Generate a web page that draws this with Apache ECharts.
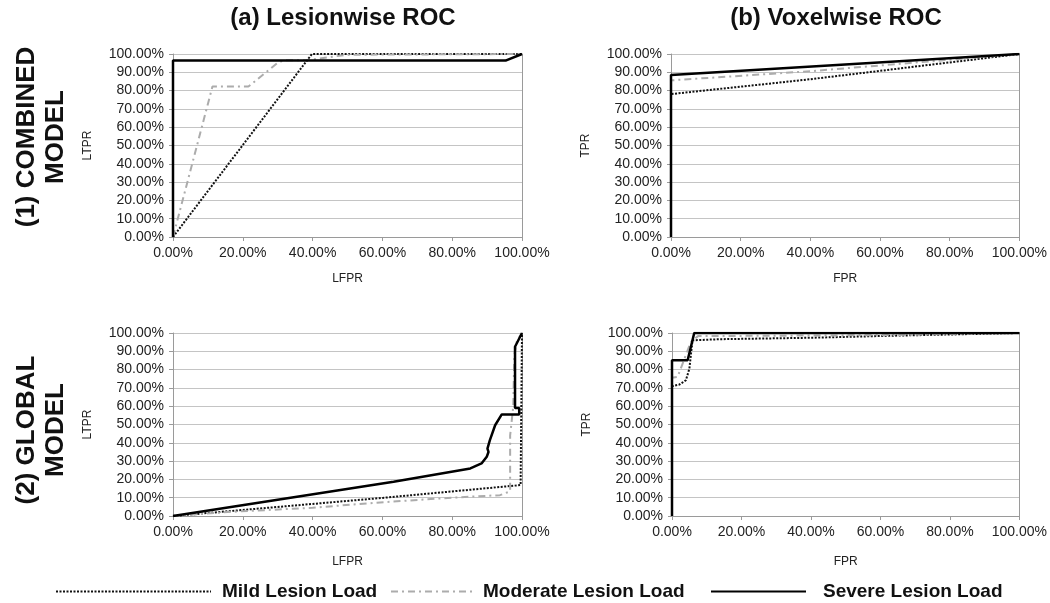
<!DOCTYPE html>
<html>
<head>
<meta charset="utf-8">
<script src="https://cdn.jsdelivr.net/npm/echarts@6/dist/echarts.min.js"></script>
<style>
html,body{margin:0;padding:0;background:#fff;}
#chart{width:1050px;height:603px;}
</style>
</head>
<body>
<div id="chart"></div>
<script>
// ---------- data (percent) ----------
const seriesNames = ['Mild Lesion Load', 'Moderate Lesion Load', 'Severe Lesion Load'];
const columnTitles = ['(a) Lesionwise ROC', '(b) Voxelwise ROC'];
const rowTitles = ['(1) COMBINED\nMODEL', '(2) GLOBAL\nMODEL'];
const xAxisNames = ['LFPR', 'FPR'];
const yAxisNames = ['LTPR', 'TPR'];
const xTickStep = 20;
const yTickStep = 10;

// (1) Combined model, lesionwise
const combinedLesionMild = [[0,0],[39.8,100],[100,100]];
const combinedLesionModerate = [[0,0],[11.3,82.2],[21.6,82.2],[29.8,94.9],[31.7,96.6],[38.4,96.6],[49.8,99.6],[100,100]];
const combinedLesionSevere = [[0,0],[0,96.4],[95.3,96.4],[100,100]];
// (1) Combined model, voxelwise
const combinedVoxelMild = [[0,0],[0,78.1],[40,86.2],[100,100]];
const combinedVoxelModerate = [[0,0],[0,85.6],[40,90.6],[100,100]];
const combinedVoxelSevere = [[0,0],[0,88.5],[100,100]];
// (2) Global model, lesionwise
const globalLesionMild = [[0,0],[40,6.6],[60,9.9],[99.6,16.9],[100,16.9],[100,100]];
const globalLesionModerate = [[0,0],[16.9,2.3],[40,4.5],[58.4,7.3],[80,10],[93.7,11.4],[96.6,13.5],[96.6,44],[97.5,60],[97.8,88],[98.6,96],[100,100]];
const globalLesionSevere = [[0,0],[63.2,18.7],[85.2,26],[88.4,28.7],[89.9,32.4],[90.4,35],[90.1,36.8],[90.8,41.5],[92.3,49.6],[94.2,55.5],[99.2,55.5],[99.2,59],[98,59],[98,92.5],[100,100]];
// (2) Global model, voxelwise
const globalVoxelMild = [[0,0],[0,70.9],[2.1,71.8],[4,74.2],[5,80.5],[5.9,96],[13.6,96.6],[40,97.4],[63,98.5],[100,100]];
const globalVoxelModerate = [[0,0],[0,75.5],[1.6,76],[5.4,95],[7.5,98.3],[60,98.8],[100,100]];
const globalVoxelSevere = [[0,0],[0,85.1],[4.5,85.1],[6.4,100],[100,100]];

const panelData = [
  [combinedLesionMild, combinedLesionModerate, combinedLesionSevere],
  [combinedVoxelMild, combinedVoxelModerate, combinedVoxelSevere],
  [globalLesionMild, globalLesionModerate, globalLesionSevere],
  [globalVoxelMild, globalVoxelModerate, globalVoxelSevere]
];

// ---------- layout / style ----------
const grids = [
  {left:173, top:54, width:349, height:183},
  {left:671, top:54, width:350, height:183},
  {left:173, top:333, width:349, height:183},
  {left:672, top:333, width:349, height:183}
];
const lineStyles = [
  {color:'#111', width:2, type:[2,1.5]},
  {color:'#acacac', width:2, type:[7,4,2,4]},
  {color:'#000', width:2.5, type:'solid'}
];
const legendLayout = [
  {left:50, itemWidth:155, textPad:6},
  {left:385, itemWidth:85, textPad:2},
  {left:705, itemWidth:95, textPad:12}
];
const font = 'Liberation Sans, Arial, sans-serif';
const axisGray = '#9a9a9a';
const fmt = v => v.toFixed(2) + '%';

const xAxes = [], yAxes = [], series = [];
grids.forEach((g, i) => {
  const col = i % 2;
  xAxes.push({
    type:'value', gridIndex:i, min:0, max:100, interval:xTickStep,
    name:xAxisNames[col], nameLocation:'middle', nameGap:i < 2 ? 36 : 40,
    nameTextStyle:{fontFamily:font, fontSize:12, color:'#222'},
    axisLine:{show:true, lineStyle:{color:axisGray, width:1}},
    axisTick:{show:true, length:4, lineStyle:{color:axisGray}},
    axisLabel:{formatter:fmt, fontFamily:font, fontSize:14, color:'#222', margin:9},
    splitLine:{show:false}
  });
  yAxes.push({
    type:'value', gridIndex:i, min:0, max:100, interval:yTickStep,
    name:yAxisNames[col], nameLocation:'middle', nameGap:79, nameRotate:90,
    nameTextStyle:{fontFamily:font, fontSize:12, color:'#222'},
    axisLine:{show:true, lineStyle:{color:axisGray, width:1}},
    axisTick:{show:true, length:4, lineStyle:{color:axisGray}},
    axisLabel:{formatter:fmt, fontFamily:font, fontSize:14, color:'#222', margin:9},
    splitLine:{show:true, lineStyle:{color:'#c4c4c4', width:1}}
  });
  // right border axis
  yAxes.push({
    type:'value', gridIndex:i, min:0, max:100, position:'right',
    axisLine:{show:true, onZero:false, lineStyle:{color:axisGray, width:1}},
    axisTick:{show:false}, axisLabel:{show:false}, splitLine:{show:false}
  });
  panelData[i].forEach((d, k) => {
    series.push({
      name:seriesNames[k], type:'line', xAxisIndex:i, yAxisIndex:i*2,
      data:d, symbol:'none', showSymbol:false, lineStyle:lineStyles[k],
      itemStyle:{color:lineStyles[k].color}, z:2+k, animation:false, silent:true
    });
  });
});

const legends = seriesNames.map((n, k) => ({
  data:[n], left:legendLayout[k].left, top:577, itemWidth:legendLayout[k].itemWidth, itemHeight:10,
  itemStyle:{opacity:0}, selectedMode:false,
  textStyle:{fontFamily:font, fontSize:19, fontWeight:'bold', color:'#111', padding:[0,0,0,legendLayout[k].textPad]}
}));

const chart = echarts.init(document.getElementById('chart'), null, {renderer:'canvas'});
chart.setOption({
  backgroundColor:'#fff',
  animation:false,
  grid:grids,
  xAxis:xAxes,
  yAxis:yAxes,
  series:series,
  legend:legends,
  graphic:[
    {type:'text', x:343, y:18, style:{text:columnTitles[0], fontFamily:font, fontSize:24, fontWeight:'bold', fill:'#111', align:'center', verticalAlign:'middle'}},
    {type:'text', x:836, y:18, style:{text:columnTitles[1], fontFamily:font, fontSize:24, fontWeight:'bold', fill:'#111', align:'center', verticalAlign:'middle'}},
    {type:'text', x:41, y:137, rotation:Math.PI/2, style:{text:rowTitles[0], fontFamily:font, fontSize:26, fontWeight:'bold', fill:'#111', align:'center', verticalAlign:'middle', lineHeight:29}},
    {type:'text', x:41, y:430, rotation:Math.PI/2, style:{text:rowTitles[1], fontFamily:font, fontSize:26, fontWeight:'bold', fill:'#111', align:'center', verticalAlign:'middle', lineHeight:29}}
  ]
});
</script>
</body>
</html>
